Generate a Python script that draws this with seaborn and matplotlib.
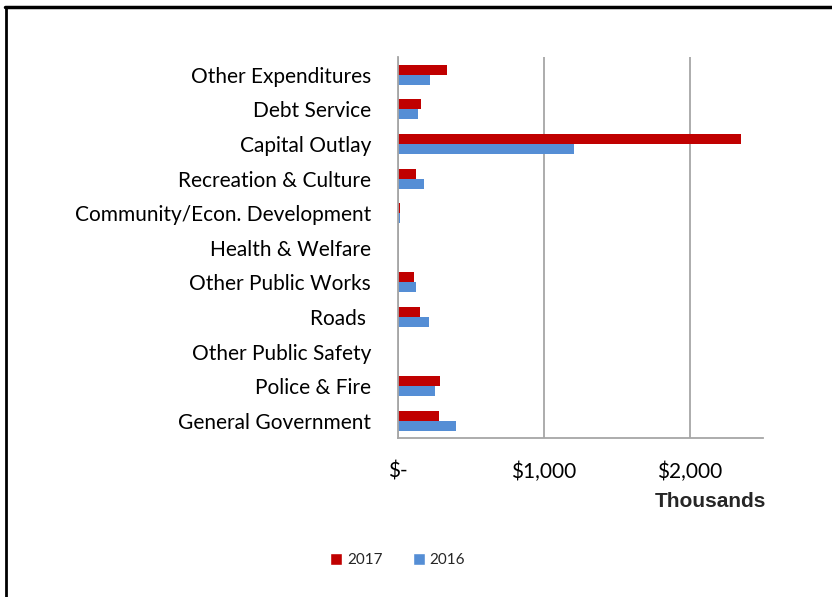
import pandas as pd
import matplotlib
matplotlib.use('Agg')
import matplotlib.pyplot as plt
from matplotlib.patches import Patch
from matplotlib.lines import Line2D
import seaborn as sns

# Data (thousands of dollars), top to bottom as shown
categories = ['Other Expenditures', 'Debt Service', 'Capital Outlay', 'Recreation & Culture',
              'Community/Econ. Development', 'Health & Welfare', 'Other Public Works',
              'Roads ', 'Other Public Safety', 'Police & Fire', 'General Government']
spend_2017 = [339, 159, 2351, 125, 18, 0, 111, 152, 0, 289, 284]
spend_2016 = [219, 137, 1207, 180, 16, 0, 123, 214, 0, 255, 399]
years = ['2017', '2016']
colors = ['#C00000', '#558ED5']

df = pd.DataFrame({
    'category': categories * 2,
    'value': spend_2017 + spend_2016,
    'year': ['2017'] * len(categories) + ['2016'] * len(categories),
})

sns.set_style('white')
plt.rcParams['font.family'] = ['Lato', 'DejaVu Sans']

fig = plt.figure(figsize=(8.32, 5.97), dpi=100)
ax = fig.add_axes([0.4778, 0.2663, 0.917 - 0.4778, 0.9037 - 0.2663])

sns.barplot(data=df, y='category', x='value', hue='year', hue_order=years,
            order=categories, palette=colors, saturation=1, width=0.58, orient='h',
            linewidth=0, legend=False, ax=ax)

# Axes styling
ax.set_xlim(0, 2500)
ax.set_ylim(len(categories) - 0.5, -0.5)
ax.set_xticks([0, 1000, 2000])
ax.set_xticklabels(['$-', '$1,000', '$2,000'])
ax.set_xlabel('')
ax.set_ylabel('')
ax.grid(axis='x', color='#A6A6A6', linewidth=1.3)
ax.set_axisbelow(True)
for side in ['top', 'right']:
    ax.spines[side].set_visible(False)
for side in ['left', 'bottom']:
    ax.spines[side].set_color('#A6A6A6')
    ax.spines[side].set_linewidth(1.3)

ax.tick_params(axis='x', length=5, width=1.3, color='#A6A6A6', pad=12, labelsize=15, labelcolor='black')
ax.set_yticks([i - 0.5 for i in range(len(categories) + 1)], minor=True)
ax.tick_params(axis='y', which='minor', length=5, width=1.3, color='#A6A6A6')
ax.tick_params(axis='y', which='major', length=0, pad=19, labelsize=15, labelcolor='black')

fig.text(0.921, 0.16, 'Thousands', ha='right', va='center', fontsize=15,
         fontweight='bold', family='Liberation Sans')

handles = [Patch(facecolor=c, label=y) for c, y in zip(colors, years)]
fig.legend(handles=handles, loc='center', bbox_to_anchor=(0.478, 0.062), ncol=2,
           frameon=False, fontsize=11, handlelength=0.8, handleheight=0.8,
           handletextpad=0.3, columnspacing=2.0)

# Outer frame (top and left edges)
fig.add_artist(Line2D([0.006, 1.0], [0.9883, 0.9883], color='black', linewidth=2.5,
                      transform=fig.transFigure))
fig.add_artist(Line2D([0.0075, 0.0075], [0.0, 0.9883], color='black', linewidth=2,
                      transform=fig.transFigure))

fig.savefig('out.png', dpi=100)
